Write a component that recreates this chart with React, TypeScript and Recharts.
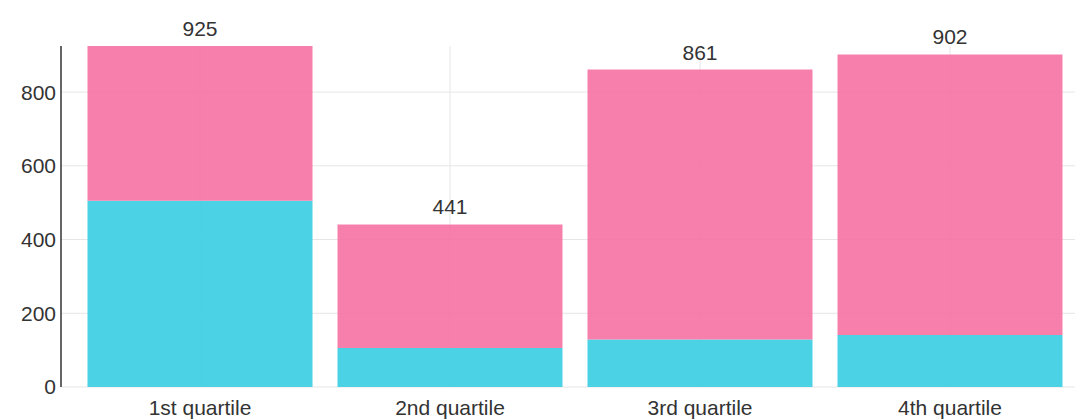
import React from 'react';
import { BarChart, Bar, XAxis, YAxis, CartesianGrid, LabelList } from 'recharts';

const categories = ['1st quartile', '2nd quartile', '3rd quartile', '4th quartile'];
const cyanValues = [505, 106, 129, 141];
const pinkValues = [420, 335, 732, 761];
const totals = [925, 441, 861, 902];
const yTicks = [0, 200, 400, 600, 800];

const data = categories.map((name, i) => ({
  name,
  cyan: cyanValues[i],
  pink: pinkValues[i],
  total: totals[i],
}));

const FONT = '"Liberation Sans", Arial, sans-serif';

export default function App() {
  return (
    <div style={{ position: 'absolute', left: 0, top: 0, background: '#fff' }}>
      <BarChart
        width={1080}
        height={420}
        data={data}
        margin={{ top: 46, right: 5, bottom: 0, left: 0 }}
        barCategoryGap="5%"
      >
        <CartesianGrid stroke="#e6e6e6" horizontalValues={yTicks} verticalValues={categories} />
        <XAxis
          dataKey="name"
          padding={{ left: 14, right: 0 }}
          axisLine={false}
          tickLine={false}
          tickSize={4}
          tickMargin={9}
          height={33}
          tick={{ fill: '#333', fontSize: 21, fontFamily: FONT }}
          interval={0}
        />
        <YAxis
          width={61}
          domain={[0, 925]}
          ticks={yTicks}
          axisLine={{ stroke: '#333', strokeWidth: 1.5 }}
          tickLine={false}
          tickSize={2}
          tickMargin={3}
          tick={{ fill: '#333', fontSize: 21, fontFamily: FONT }}
        />
        <Bar dataKey="cyan" stackId="a" fill="#3dcfe2" fillOpacity={0.93} isAnimationActive={false} />
        <Bar dataKey="pink" stackId="a" fill="#f671a3" fillOpacity={0.9} isAnimationActive={false}>
          <LabelList
            dataKey="total"
            position="top"
            offset={10}
            style={{ fill: '#333', fontSize: 21, fontFamily: FONT }}
          />
        </Bar>
      </BarChart>
    </div>
  );
}
